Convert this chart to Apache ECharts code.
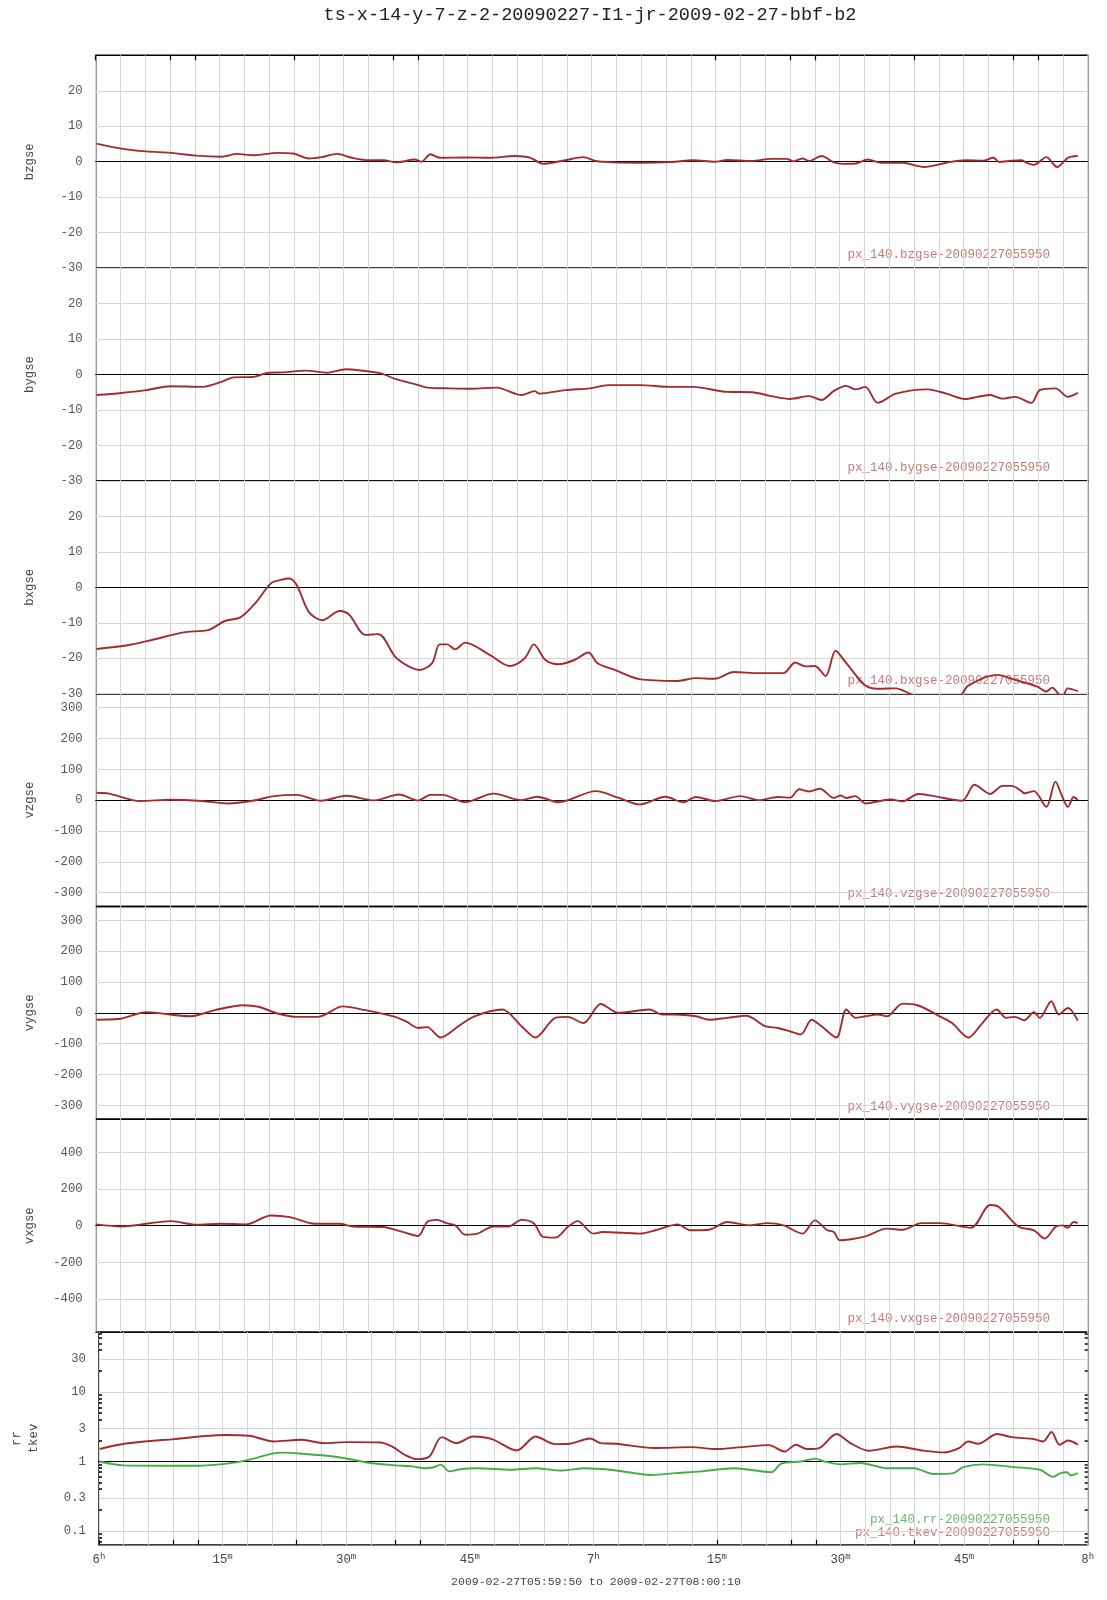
<!DOCTYPE html>
<html><head><meta charset="utf-8">
<script src="https://cdn.jsdelivr.net/npm/echarts@6/dist/echarts.min.js"></script>
<style>html,body{margin:0;padding:0;background:#fff}#c{width:1107px;height:1600px}</style>
</head><body><div id="c"></div>
<script>
// time in minutes after 06:00, value
const bzgse = [[0.1,5.1],[3.1,3.7],[6.1,2.9],[9.1,2.5],[12.2,1.7],[15.2,1.4],[17.1,2.2],[19,1.8],[22,2.5],[23.9,2.3],[25.8,0.9],[27.3,1.3],[29.2,2.2],[31,1.1],[33,0.4],[34.8,0.4],[36.4,-0.2],[38.6,0.6],[39.4,0],[40.5,2.1],[41.6,1.1],[44.7,1.2],[47.7,1.1],[50.7,1.6],[52.6,1.1],[54.1,-0.6],[56.8,0.4],[59,1.3],[60.5,0.2],[62.8,-0.2],[65.8,-0.3],[69.6,-0.1],[72.3,0.4],[74.9,0],[76.4,0.5],[79.4,0.2],[81.7,0.8],[83.6,0.8],[84.4,0.1],[85.5,0.9],[86.3,0.2],[87.8,1.6],[89.3,-0.2],[90.4,-0.6],[91.9,-0.5],[93.4,0.6],[95,-0.3],[97.6,-0.3],[100.2,-1.5],[102.9,-0.3],[105.2,0.4],[107.4,0.3],[108.6,1.1],[109.3,-0.1],[110.8,0.3],[112,0.4],[112.7,-0.4],[113.5,-0.9],[115,1.3],[116.3,-1.5],[117.6,1.1],[118.8,1.6]];
const bygse = [[0.1,-5.8],[3.1,-5.2],[6.1,-4.4],[9.1,-3.3],[12.9,-3.5],[15.2,-2.1],[16.7,-0.8],[19,-0.7],[20.9,0.5],[22.7,0.6],[25.4,1.1],[28,0.5],[30.3,1.5],[31.8,1.2],[34.5,0.3],[36.4,-1.4],[38.6,-2.7],[40.1,-3.7],[42.8,-3.9],[45.4,-4],[48.5,-3.7],[51.5,-5.8],[53.1,-4.7],[53.7,-5.4],[56.8,-4.4],[59.8,-3.9],[62,-3],[65.8,-3],[69.6,-3.5],[72.3,-3.5],[76.4,-4.9],[79.4,-5],[81.7,-6.1],[84,-6.9],[86.3,-6.1],[87.8,-7.2],[89.3,-4.6],[90.8,-3.2],[91.9,-4.2],[93.1,-3.5],[94.6,-8],[96.8,-5.4],[100.6,-4.2],[102.9,-5.4],[105.2,-6.9],[106.7,-6.3],[108.2,-5.8],[109.7,-6.8],[111.2,-6.3],[113.2,-8],[114.2,-4.4],[116.1,-3.9],[117.6,-6.3],[118.8,-5.2]];
const bxgse = [[0.1,-17.4],[4.2,-16.2],[6.9,-14.8],[10.6,-12.7],[13.7,-12],[15.6,-9.5],[17.5,-8.5],[19.3,-4.5],[21.2,1.1],[22.4,2.1],[23.4,2.5],[24.3,0.7],[25.8,-7],[27.4,-9.3],[29.5,-6.7],[30.7,-7.8],[32.6,-13.4],[34.2,-13.2],[36.4,-20],[39.2,-23.3],[40.7,-21.4],[41.6,-16.1],[42.5,-16.1],[43.5,-17.5],[44.7,-15.6],[47.7,-19.1],[50.1,-22.2],[51.9,-20],[53,-16.1],[54.4,-20.5],[56,-21.7],[57.9,-20.5],[59.6,-18.4],[60.7,-21.4],[62.8,-23.3],[65.8,-25.9],[70.4,-26.4],[72.6,-25.6],[74.9,-25.8],[77.2,-23.9],[80.2,-24.2],[83.2,-24.2],[84.6,-21.2],[85.9,-22.3],[87,-22.2],[88.3,-25],[89.5,-17.9],[90.8,-21.4],[93.1,-27.7],[94.6,-28.6],[96.8,-28.5],[99.1,-30.5],[104.4,-31],[105.5,-27.8],[109,-24.7],[111.2,-26.1],[113.9,-28],[115,-29.4],[115.7,-28.3],[116.9,-31],[117.6,-28.5],[118.8,-29.3]];
const vzgse = [[0.1,24],[1.6,21],[5.4,-3],[9.1,1],[12.9,-3],[16,-11],[19,-2],[21.6,13],[24.3,17],[27.3,-2],[30.3,14],[33.7,-1],[36.7,18],[39,-1],[40.5,17],[42,17],[44.7,-7],[48.1,21],[51.5,0],[53.4,11],[56,-7],[60.5,29],[63.2,8],[65.8,-14],[68.9,11],[71.1,-7],[72.6,10],[74.9,-3],[78,13],[80.2,0],[82.5,10],[84,8],[85.1,35],[86.3,28],[87.6,37],[89.3,7],[90.1,15],[90.8,7],[91.9,13],[93.1,-11],[96.1,2],[97.6,-4],[99.5,20],[101.4,13],[104.8,-2],[106.3,50],[108.2,20],[109.7,46],[110.8,46],[112,29],[112.3,22],[113.5,29],[115,-22],[116.1,60],[116.9,13],[117.6,-22],[118.3,10],[118.8,0]];
const vygse = [[0.1,-22],[2.7,-20],[6.1,2],[11.4,-11],[14.4,9],[17.8,25],[19.7,20],[22,-2],[24.3,-13],[26.9,-13],[29.9,21],[32.6,9],[36,-11],[37.5,-27],[39,-49],[40.1,-46],[41.7,-80],[43.9,-43],[45.8,-11],[49.2,11],[51.5,-43],[53.2,-80],[55.6,-16],[57.1,-13],[59,-33],[61.1,29],[63.2,0],[67,11],[68.5,-5],[70,-5],[72.6,-11],[74.2,-22],[76.4,-16],[78.7,-9],[81,-43],[82.5,-49],[84,-60],[85.3,-70],[86.6,-22],[87.8,-43],[89.6,-80],[90.8,11],[91.9,-16],[93.1,-11],[94.6,-5],[95.7,-11],[97.6,30],[99.5,24],[102.1,-11],[103.6,-33],[105.6,-80],[107.1,-38],[109,11],[110.1,-16],[111.2,-13],[112.3,-24],[113.5,2],[114.2,-16],[115.6,38],[116.5,-5],[117.6,16],[118.8,-25]];
const vxgse = [[0.1,7],[3.1,-4],[9.1,25],[12.2,5],[15.2,11],[18.2,7],[21.2,56],[23.5,47],[26.5,11],[29.5,11],[31.1,-4],[34.8,-7],[37.1,-34],[39,-56],[40.1,20],[41.3,32],[42.4,14],[43.5,2],[44.7,-49],[46.2,-43],[48.1,-4],[50,-4],[51.5,32],[53,14],[54.1,-61],[55.6,-65],[57.1,-7],[58.3,25],[60.2,-43],[61.3,-34],[65.8,-43],[67.7,-25],[70.4,7],[71.9,-25],[74.2,-22],[76.4,20],[79.1,2],[81.3,14],[83.2,2],[85.5,-43],[87,29],[88.5,-25],[89.3,-34],[90,-79],[93.1,-58],[95.7,-16],[97.6,-22],[99.9,14],[102.1,14],[105.9,-11],[108.2,113],[109.3,101],[111.6,-4],[113.5,-25],[114.8,-70],[116.1,-7],[116.9,2],[117.6,-11],[118.3,20],[118.8,15]];
const tkev = [[0.1,1.51],[3.1,1.8],[9.1,2.1],[15.2,2.4],[18.2,2.35],[21.2,1.94],[24.6,2.05],[27.3,1.84],[30.3,1.9],[34.1,1.88],[35.6,1.64],[37.1,1.25],[38.6,1.08],[40.1,1.18],[41.6,2.24],[43.4,1.84],[45.4,2.29],[47.7,2.1],[50.7,1.44],[53,2.29],[55.3,1.78],[57.1,1.8],[59.6,2.14],[60.9,1.84],[62.8,1.8],[67.4,1.56],[71.9,1.61],[74.9,1.51],[78,1.61],[81.3,1.72],[83.2,1.39],[84.6,1.74],[85.9,1.51],[87.4,1.56],[89.5,2.48],[91.2,1.84],[93.4,1.43],[96.8,1.64],[99.9,1.44],[102.5,1.35],[104.4,1.56],[105.5,1.94],[106.7,1.8],[109,2.48],[110.8,2.24],[113.5,2.1],[114.6,1.94],[115.6,2.65],[116.6,1.74],[117.6,2.0],[118.8,1.75]];
const rr = [[0.1,1.0],[2.9,0.88],[8,0.87],[12.2,0.87],[16.6,0.97],[19,1.12],[21,1.3],[22.5,1.34],[25,1.28],[28,1.2],[31,1.05],[33,0.95],[36,0.88],[38,0.85],[39.5,0.8],[40.5,0.82],[41.5,0.9],[42.5,0.72],[44,0.78],[46,0.8],[50,0.76],[53,0.8],[56,0.74],[59,0.8],[62,0.76],[65,0.68],[67,0.64],[70,0.68],[73.1,0.72],[77.1,0.8],[81.6,0.7],[82.8,0.93],[85.2,1.0],[87,1.1],[88,1.0],[90,0.91],[92.4,0.95],[95.7,0.8],[98.9,0.8],[101.3,0.66],[103.7,0.68],[104.9,0.83],[107.3,0.91],[111,0.83],[114.2,0.76],[115.8,0.6],[116.7,0.68],[117.5,0.7],[117.9,0.63],[118.8,0.68]];

const panelNames = ['bzgse','bygse','bxgse','vzgse','vygse','vxgse','rr\ntkev'];
const panelSeries = [bzgse,bygse,bxgse,vzgse,vygse,vxgse];
const panelRanges = [[-30,30],[-30,30],[-30,30],[-345,345],[-345,345],[-580,580]];
const panelTicks = [
  [-30,-20,-10,0,10,20],[-30,-20,-10,0,10,20],[-30,-20,-10,0,10,20],
  [-300,-200,-100,0,100,200,300],[-300,-200,-100,0,100,200,300],
  [-400,-200,0,200,400]
];
const logTicks = [0.1,0.3,1,3,10,30];
const logMinor = [0.07,0.08,0.09,0.2,0.4,0.5,0.6,0.7,0.8,0.9,2,4,5,6,7,8,9,20,40,50,60,70];
const logRange = [0.063,72.8];
const timeTicks = [0,15,30,45,60,75,90,105,120];
const timeText = [['6','h'],['15','m'],['30','m'],['45','m'],['7','h'],['15','m'],['30','m'],['45','m'],['8','h']];
const borderTicks = [0,9,12,24,36,39,75,84,87,99,111,114];
const legendTexts = ['px_140.bzgse-20090227055950','px_140.bygse-20090227055950','px_140.bxgse-20090227055950','px_140.vzgse-20090227055950','px_140.vygse-20090227055950','px_140.vxgse-20090227055950'];
const titleText = 'ts-x-14-y-7-z-2-20090227-I1-jr-2009-02-27-bbf-b2';
const footText = '2009-02-27T05:59:50 to 2009-02-27T08:00:10';

const MONO = 'Liberation Mono';
const LEFT = 95.7, RIGHTX = 1087.7, TOP = 55.3, PH = 212.8;
const RED = '#a52a30', GREEN = '#44ad44', GRID = '#d6d6d6', LBL = '#555';
const lg = Math.log10;

const grids = [], xAxes = [], yAxes = [], series = [], graphics = [];
for (let i = 0; i < 7; i++) {
  grids.push({left: LEFT, width: RIGHTX - LEFT, top: TOP + i * PH, height: PH,
    show: true, borderColor: '#000', borderWidth: 1.4, backgroundColor: 'transparent'});
  xAxes.push({gridIndex: i, type: 'value', min: 0, max: 120, interval: 3,
    axisLine: {show: true, onZero: true, lineStyle: {color: '#000', width: 1.2}},
    axisTick: {show: false}, axisLabel: {show: false},
    splitLine: {show: true, lineStyle: {color: GRID, width: 1}}});
  const isLog = i === 6;
  const rng = isLog ? [lg(logRange[0]), lg(logRange[1])] : panelRanges[i];
  const ticks = isLog ? logTicks.map(lg) : panelTicks[i];
  yAxes.push({gridIndex: i, type: 'value', min: rng[0], max: rng[1],
    name: panelNames[i], nameLocation: 'middle', nameRotate: 90, nameGap: 57,
    nameTextStyle: {fontFamily: MONO, fontSize: 12.3, color: '#444', lineHeight: 17},
    axisLine: {show: false, onZero: false},
    axisTick: {show: false, customValues: ticks},
    axisLabel: {customValues: ticks, fontFamily: MONO, fontSize: 12.3, color: LBL, margin: 13,
      formatter: isLog ? (v => String(Number(Math.pow(10, v).toPrecision(1)))) : (v => String(v))},
    splitLine: {show: true, lineStyle: {color: GRID, width: 1}}});
  if (!isLog) {
    series.push({type: 'line', xAxisIndex: i, yAxisIndex: i, data: panelSeries[i],
      showSymbol: false, smooth: 0.3, clip: true, lineStyle: {color: RED, width: 1.9}, z: 5});
    graphics.push({type: 'text', x: 1050, y: TOP + (i + 1) * PH - 13,
      style: {text: legendTexts[i], font: '12.5px ' + MONO, fill: '#c47a7a', align: 'right', verticalAlign: 'middle'}});
  }
}
series.push({type: 'line', xAxisIndex: 6, yAxisIndex: 6, data: tkev.map(p => [p[0], lg(p[1])]),
  showSymbol: false, smooth: 0.3, lineStyle: {color: RED, width: 1.9}, z: 5});
series.push({type: 'line', xAxisIndex: 6, yAxisIndex: 6, data: rr.map(p => [p[0], lg(p[1])]),
  showSymbol: false, smooth: 0.3, lineStyle: {color: GREEN, width: 1.9}, z: 5});
graphics.push({type: 'text', x: 1050, y: TOP + 7 * PH - 25,
  style: {text: 'px_140.rr-20090227055950', font: '12.5px ' + MONO, fill: '#6cb86c', align: 'right', verticalAlign: 'middle'}});
graphics.push({type: 'text', x: 1050, y: TOP + 7 * PH - 12.5,
  style: {text: 'px_140.tkev-20090227055950', font: '12.5px ' + MONO, fill: '#c47a7a', align: 'right', verticalAlign: 'middle'}});
graphics.push({type: 'text', x: 590, y: 15,
  style: {text: titleText, font: '18.5px ' + MONO, fill: '#222', align: 'center', verticalAlign: 'middle'}});
graphics.push({type: 'text', x: 596, y: 1582,
  style: {text: footText, font: '11.5px ' + MONO, fill: '#444', align: 'center', verticalAlign: 'middle'}});

// bottom time labels and border ticks
xAxes.push({gridIndex: 6, type: 'value', position: 'bottom', min: 0, max: 120,
  axisLine: {show: false, onZero: false},
  axisTick: {show: true, inside: true, length: 5, customValues: borderTicks, lineStyle: {color: '#000', width: 1.2}},
  axisLabel: {customValues: timeTicks, margin: 7, color: '#444',
    formatter: v => { const k = timeTicks.indexOf(v); return '{a|' + timeText[k][0] + '}{b|' + timeText[k][1] + '}'; },
    rich: {a: {fontFamily: MONO, fontSize: 12.3, color: '#444', lineHeight: 16},
           b: {fontFamily: MONO, fontSize: 9, color: '#444', verticalAlign: 'top', lineHeight: 9}}},
  splitLine: {show: false}});
xAxes.push({gridIndex: 0, type: 'value', position: 'top', min: 0, max: 120,
  axisLine: {show: false, onZero: false},
  axisTick: {show: true, inside: true, length: 5, customValues: borderTicks, lineStyle: {color: '#000', width: 1.2}},
  axisLabel: {show: false}, splitLine: {show: false}});
// minor log ticks on both sides
['left', 'right'].forEach(pos => {
  yAxes.push({gridIndex: 6, type: 'value', position: pos, min: lg(logRange[0]), max: lg(logRange[1]),
    axisLine: {show: false, onZero: false},
    axisTick: {show: true, inside: true, length: 3, customValues: logMinor.map(lg), lineStyle: {color: '#000', width: 1.5}},
    axisLabel: {show: false}, splitLine: {show: false}});
});

const chart = echarts.init(document.getElementById('c'), null, {renderer: 'canvas'});
chart.setOption({animation: false, backgroundColor: '#fff', grid: grids, xAxis: xAxes, yAxis: yAxes, series: series, graphic: graphics});
</script></body></html>
